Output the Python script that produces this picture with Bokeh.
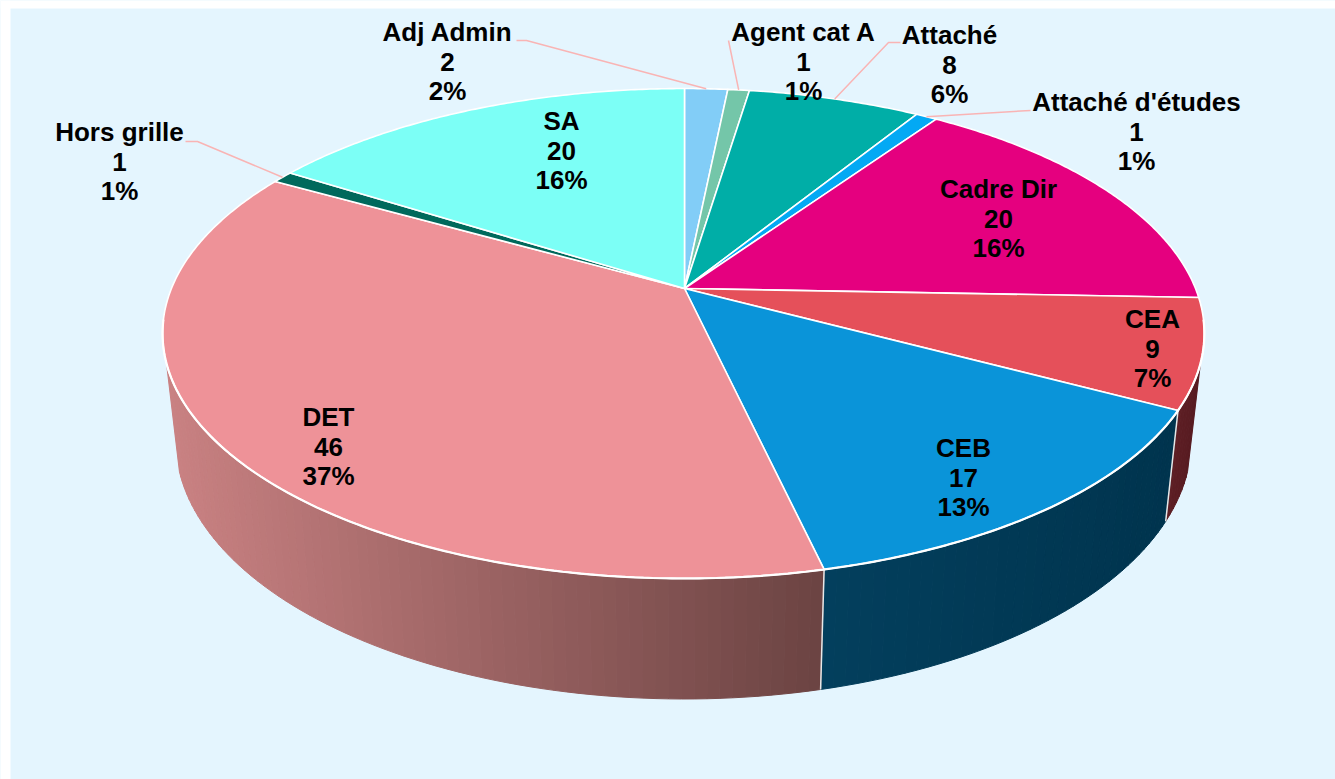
import numpy as np
from bokeh.core.properties import value
from bokeh.embed import file_html
from bokeh.models import ColumnDataSource, Range1d
from bokeh.plotting import figure
from bokeh.resources import INLINE

# ---- data ----
categories = ["Adj Admin", "Agent cat A", "Attaché", "Attaché d'études", "Cadre Dir",
              "CEA", "CEB", "DET", "Hors grille", "SA"]
counts = [2, 1, 8, 1, 20, 9, 17, 46, 1, 20]
percents = ["2%", "1%", "6%", "1%", "16%", "7%", "13%", "37%", "1%", "16%"]

# ---- styles ----
top_colors = ["#82cdf7", "#74c6a9", "#00aea7", "#03a9f4", "#e5007f",
              "#e5505a", "#0a94d9", "#ee9298", "#00695c", "#7cfff6"]
side_ramps = {"CEA": ("#5e1f25", "#561a20"), "CEB": ("#033f5d", "#00344e"), "DET": ("#c98182", "#6c4443")}
BG = "#e4f5fe"
LEADER = "#f9b4b4"
FONT = "Liberation Sans"

# ---- layout (screen pixels) ----
CX, CY = 684.0, 288.0
A, B, K = 511.0, 236.7, 0.1837
LEFT_STRETCH = 1.004
SX, SY, BOT_Y = 0.975, 1.057, 392.0
VIS0, VIS1 = 107.4, 252.6
label_pos = {"Adj Admin": (447, 31.5), "Agent cat A": (803, 31.5), "Attaché": (949, 34.5),
             "Attaché d'études": (1136, 101.5), "Cadre Dir": (998, 188.5), "CEA": (1152, 318.5),
             "CEB": (963, 447.5), "DET": (328, 416.5), "Hors grille": (119, 131.5), "SA": (561, 120.5)}
line_gap = 29.5
leaders = {"Adj Admin": [(516, 40), (526, 40)], "Agent cat A": [(728, 40)],
           "Attaché": [(900, 42), (888, 42)], "Attaché d'études": [(1030, 110)],
           "Hors grille": [(185, 141), (197, 141)]}


def project(theta_deg, bottom=False):
    t = np.radians(theta_deg)
    w = 1 + K * np.cos(t)
    dx = A * np.sin(t) / w
    dx = np.where(dx < 0, dx * LEFT_STRETCH, dx)
    dy = -B * np.cos(t) / w
    if bottom:
        return CX + SX * dx, BOT_Y + SY * dy
    return CX + dx, CY + dy


def hex_rgb(h):
    return np.array([int(h[i:i + 2], 16) for i in (1, 3, 5)], float)


total = sum(counts)
edges = np.concatenate([[0], np.cumsum(counts)]) / total * 360.0

p = figure(width=1335, height=779, output_backend="svg", toolbar_location=None,
           x_range=Range1d(0, 1335), y_range=Range1d(779, 0), min_border=0,
           background_fill_color=BG, border_fill_color=BG, outline_line_color=None)
p.axis.visible = False
p.grid.visible = False
p.quad(left=[0, 0], right=[10, 1335], top=[0, 0], bottom=[779, 8], color="#ffffff", line_color=None)

# side wall strips
sx, sy, sc = [], [], []
for i, cat in enumerate(categories):
    if cat not in side_ramps:
        continue
    a0, a1 = max(edges[i], VIS0), min(edges[i + 1], VIS1)
    if a1 <= a0:
        continue
    c0, c1 = hex_rgb(side_ramps[cat][0]), hex_rgb(side_ramps[cat][1])
    n = max(4, int((a1 - a0) / 1.2))
    th = np.linspace(a0, a1, n + 1)
    xs_mid = project((th[:-1] + th[1:]) / 2)[0]
    lo, hi = xs_mid.min(), xs_mid.max()
    for j in range(n):
        f = (xs_mid[j] - lo) / (hi - lo)
        col = c0 + (c1 - c0) * f
        tx, ty = project(th[j:j + 2])
        bx, by = project(th[j:j + 2], True)
        sx.append(list(tx) + list(bx[::-1]))
        sy.append(list(ty) + list(by[::-1]))
        sc.append("#%02x%02x%02x" % tuple(int(round(v)) for v in col))
p.patches(sx, sy, fill_color=sc, line_color=sc, line_width=1)

# separators on the wall
for e in edges:
    if VIS0 < e < VIS1:
        tx, ty = project(e)
        bx, by = project(e, True)
        p.line([float(tx), float(bx)], [float(ty), float(by)], line_color="#e8e8e8", line_width=1.5)

# top face slices
fx, fy = [], []
for i in range(len(categories)):
    th = np.linspace(edges[i], edges[i + 1], max(3, int((edges[i + 1] - edges[i]) / 0.5)))
    x, y = project(th)
    fx.append([CX] + list(x))
    fy.append([CY] + list(y))
p.patches(fx, fy, fill_color=top_colors, line_color="#ffffff", line_width=1.6, line_join="round")

# stronger white edge along the front of the top face
th = np.linspace(VIS0 - 10, VIS1 + 10, 200)
x, y = project(th)
p.line(x, y, line_color="#ffffff", line_width=2.2)

# leaders
for i, cat in enumerate(categories):
    if cat in leaders:
        mid = (edges[i] + edges[i + 1]) / 2
        ex, ey = project(mid)
        pts = leaders[cat] + [(float(ex), float(ey))]
        p.line([q[0] for q in pts], [q[1] for q in pts], line_color=LEADER, line_width=1.5)

# labels
tx, ty, tt = [], [], []
for i, cat in enumerate(categories):
    lx, ly = label_pos[cat]
    for k, s in enumerate([cat, str(counts[i]), percents[i]]):
        tx.append(lx)
        ty.append(ly + k * line_gap)
        tt.append(s)
src = ColumnDataSource(dict(x=tx, y=ty, t=tt))
p.text("x", "y", text="t", source=src, text_font=value(FONT), text_font_style="bold",
       text_font_size="26px", text_align="center", text_baseline="middle", text_color="#000000")

open("out.html", "w").write(file_html(p, INLINE))
